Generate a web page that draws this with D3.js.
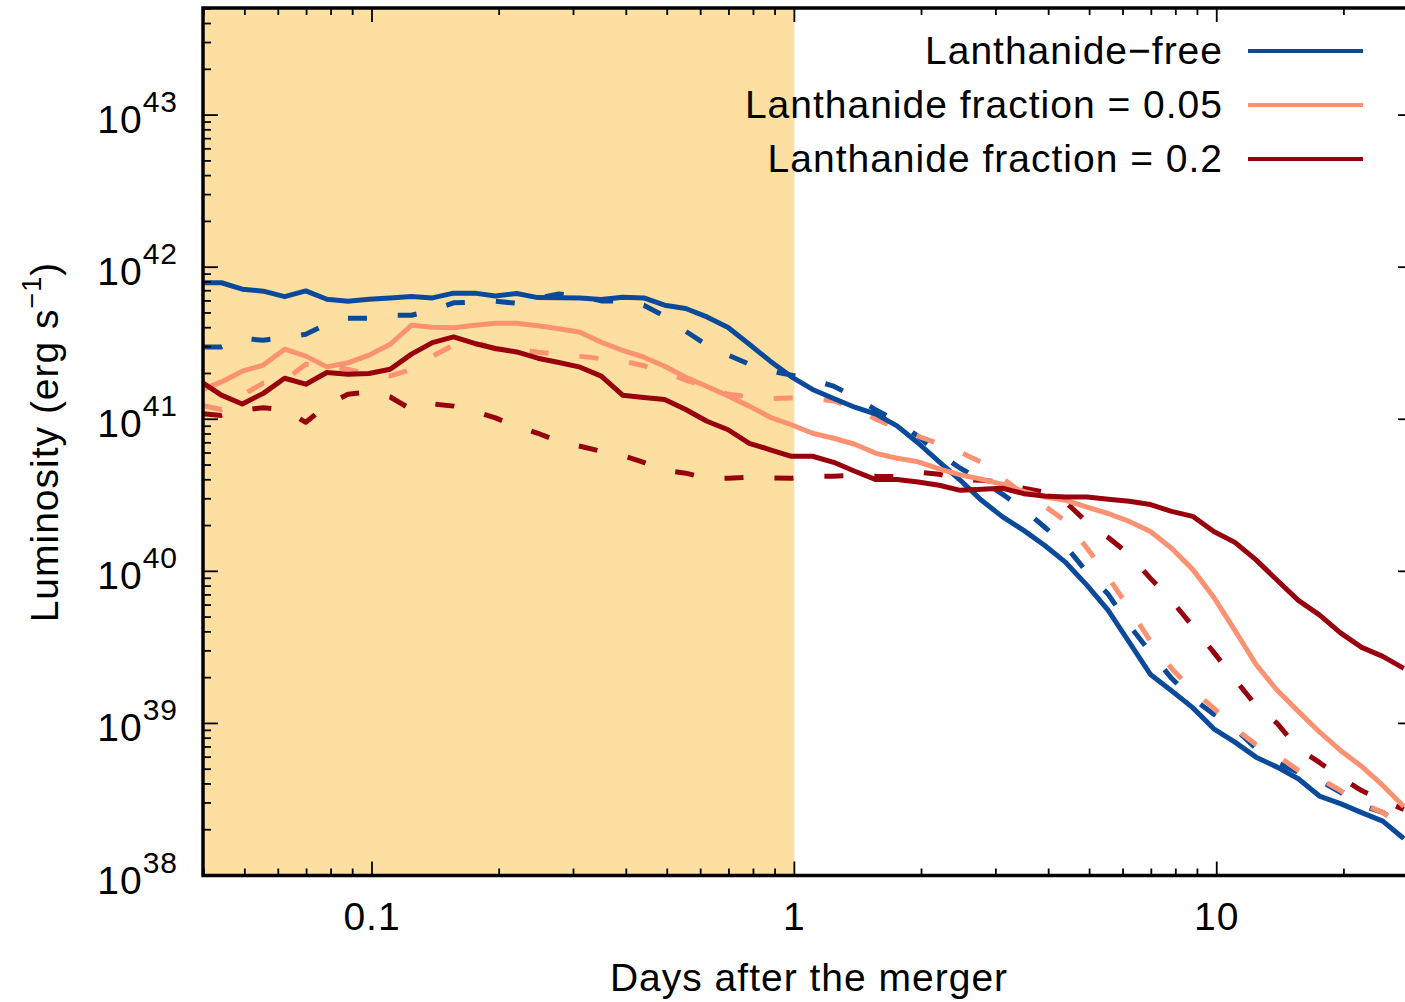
<!DOCTYPE html>
<html>
<head>
<meta charset="utf-8">
<script src="https://cdn.jsdelivr.net/npm/d3@7"></script>
<style>
  body { margin: 0; background: #fff; }
  text { font-family: "Liberation Sans", Arial, Helvetica, sans-serif; fill: #000; letter-spacing: 1px; }
</style>
</head>
<body>
<script>
// time grid (days after the merger)
var days = [0.0392, 0.044, 0.0493, 0.0553, 0.0621, 0.0697, 0.0782, 0.0877, 0.0984, 0.1104,
  0.124, 0.139, 0.156, 0.175, 0.196, 0.220, 0.247, 0.277, 0.311, 0.349,
  0.392, 0.440, 0.493, 0.553, 0.621, 0.697, 0.782, 0.877, 0.984, 1.104,
  1.239, 1.390, 1.560, 1.750, 1.963, 2.203, 2.472, 2.773, 3.112, 3.491,
  3.917, 4.395, 4.932, 5.534, 6.209, 6.966, 7.816, 8.770, 9.840, 11.04,
  12.39, 13.90, 15.60, 17.50, 19.63, 22.03, 24.72, 27.73];

// luminosity (erg/s), solid and dashed curve of each model
var freeSolid = [7.9e41, 7.9e41, 7.16e41, 6.95e41, 6.40e41, 6.98e41, 6.15e41, 5.97e41, 6.15e41, 6.28e41,
  6.41e41, 6.28e41, 6.75e41, 6.75e41, 6.47e41, 6.72e41, 6.31e41, 6.3e41, 6.28e41, 6.12e41,
  6.34e41, 6.28e41, 5.62e41, 5.35e41, 4.71e41, 4.01e41, 3.11e41, 2.41e41, 1.90e41, 1.57e41,
  1.37e41, 1.20e41, 1.08e41, 9.04e40, 6.98e40, 5.24e40, 3.97e40, 2.93e40, 2.28e40, 1.86e40,
  1.48e40, 1.14e40, 8.09e39, 5.54e39, 3.41e39, 2.10e39, 1.64e39, 1.27e39, 9.22e38, 7.53e38,
  6.00e38, 5.16e38, 4.33e38, 3.33e38, 2.97e38, 2.59e38, 2.28e38, 1.75e38];
var freeDashed = [2.99e41, 2.99e41, 3.4e41, 3.31e41, 3.45e41, 3.62e41, 4.22e41, 4.61e41, 4.61e41, 4.83e41,
  4.83e41, 5.21e41, 5.83e41, 5.9e41, 5.97e41, 5.79e41, 6.25e41, 6.67e41, 6.44e41, 6.0e41,
  6.0e41, 5.62e41, 4.76e41, 3.79e41, 3.07e41, 2.64e41, 2.30e41, 2.07e41, 1.95e41, 1.81e41,
  1.65e41, 1.40e41, 1.15e41, 9.7e40, 7.73e40, 5.89e40, 4.76e40, 3.97e40, 3.21e40, 2.56e40,
  1.95e40, 1.46e40, 9.85e39, 7.06e39, 4.41e39, 2.93e39, 1.98e39, 1.46e39, 1.15e39, 9.27e38,
  6.85e38, 5.54e38, 4.76e38, 4.22e38, 3.52e38, 2.89e38, 2.6e38, 2.1e38];
var lan005Solid = [1.55e41, 1.76e41, 2.07e41, 2.27e41, 2.89e41, 2.60e41, 2.21e41, 2.35e41, 2.64e41, 3.11e41,
  4.15e41, 4.03e41, 4.0e41, 4.15e41, 4.28e41, 4.28e41, 4.12e41, 3.94e41, 3.73e41, 3.21e41,
  2.84e41, 2.56e41, 2.23e41, 1.89e41, 1.64e41, 1.42e41, 1.22e41, 1.03e41, 9.2e40, 8.09e40,
  7.5e40, 6.85e40, 5.97e40, 5.54e40, 5.25e40, 4.72e40, 4.31e40, 4.03e40, 3.73e40, 3.36e40,
  3.08e40, 2.93e40, 2.64e40, 2.40e40, 2.13e40, 1.83e40, 1.42e40, 1.03e40, 6.75e39, 4.09e39,
  2.44e39, 1.65e39, 1.2e39, 8.79e38, 6.64e38, 5.21e38, 3.91e38, 2.84e38];
var lan005Dashed = [1.24e41, 1.16e41, 1.44e41, 1.73e41, 1.81e41, 2.30e41, 2.23e41, 2.13e41, 1.98e41, 1.93e41,
  2.12e41, 2.60e41, 3.07e41, 3.21e41, 2.89e41, 2.89e41, 2.76e41, 2.68e41, 2.60e41, 2.50e41,
  2.41e41, 2.25e41, 2.04e41, 1.81e41, 1.62e41, 1.46e41, 1.41e41, 1.37e41, 1.38e41, 1.37e41,
  1.32e41, 1.18e41, 1.0e41, 8.73e40, 7.73e40, 6.9e40, 6.07e40, 5.21e40, 4.09e40, 3.21e40,
  2.68e40, 2.13e40, 1.42e40, 9.14e39, 5.71e39, 3.46e39, 2.30e39, 1.65e39, 1.26e39, 9.27e38,
  7.27e38, 6.16e38, 4.91e38, 4.35e38, 3.62e38, 2.98e38, 2.6e38, 2.07e38];
var lan02Solid = [1.78e41, 1.44e41, 1.26e41, 1.48e41, 1.86e41, 1.70e41, 2.03e41, 1.98e41, 2.0e41, 2.13e41,
  2.68e41, 3.19e41, 3.48e41, 3.15e41, 2.92e41, 2.77e41, 2.52e41, 2.36e41, 2.20e41, 1.92e41,
  1.44e41, 1.39e41, 1.35e41, 1.16e41, 9.7e40, 8.53e40, 6.95e40, 6.3e40, 5.71e40, 5.71e40,
  5.21e40, 4.55e40, 4.01e40, 4.01e40, 3.87e40, 3.68e40, 3.41e40, 3.46e40, 3.52e40, 3.24e40,
  3.13e40, 3.08e40, 3.08e40, 2.98e40, 2.89e40, 2.75e40, 2.48e40, 2.30e40, 1.83e40, 1.55e40,
  1.19e40, 8.73e39, 6.44e39, 5.17e39, 3.94e39, 3.16e39, 2.76e39, 2.30e39];
var lan02Dashed = [1.09e41, 1.06e41, 1.15e41, 1.19e41, 1.15e41, 9.55e40, 1.24e41, 1.46e41, 1.51e41, 1.40e41,
  1.16e41, 1.26e41, 1.22e41, 1.13e41, 1.02e41, 9.0e40, 8.09e40, 7.16e40, 6.64e40, 6.15e40,
  5.79e40, 5.21e40, 4.62e40, 4.42e40, 4.09e40, 4.09e40, 4.15e40, 4.12e40, 4.09e40, 4.22e40,
  4.22e40, 4.28e40, 4.22e40, 4.2e40, 4.48e40, 4.35e40, 4.03e40, 3.97e40, 3.85e40, 3.52e40,
  3.31e40, 2.84e40, 2.10e40, 1.67e40, 1.29e40, 8.99e39, 6.44e39, 4.35e39, 2.93e39, 1.95e39,
  1.31e39, 1.0e39, 6.85e38, 5.54e38, 4.41e38, 3.62e38, 3.11e38, 2.72e38];

var legendLabels = ["Lanthanide\u2212free", "Lanthanide fraction = 0.05", "Lanthanide fraction = 0.2"];
var colors = ["#0b4a9a", "#fc9272", "#99000d"];
var xTickValues = [0.1, 1, 10];
var yTickExponents = [38, 39, 40, 41, 42, 43];
var shadeEnd = 1; // shaded band ends at 1 day

// set up chart area
var svgWidth = 1405, svgHeight = 1002;
var plot = { left: 203, right: 1413, top: 8, bottom: 875.5 };

var xScale = d3.scaleLog().domain([0.0398, 29.15]).range([plot.left, plot.right]);
var yScale = d3.scaleLog().domain([1e38, 5.06e43]).range([plot.bottom, plot.top]);

var svg = d3.select("body").append("svg")
  .attr("width", svgWidth)
  .attr("height", svgHeight);

svg.append("clipPath").attr("id", "clip")
  .append("rect")
  .attr("x", plot.left).attr("y", plot.top)
  .attr("width", plot.right - plot.left)
  .attr("height", plot.bottom - plot.top);

// shaded early-time band
svg.append("rect")
  .attr("x", plot.left)
  .attr("y", plot.top)
  .attr("width", xScale(shadeEnd) - plot.left)
  .attr("height", plot.bottom - plot.top)
  .attr("fill", "#fde0a1");

var line = d3.line()
  .x(function(d) { return xScale(d[0]); })
  .y(function(d) { return yScale(d[1]); });

var curves = [
  { vals: freeDashed, color: colors[0], dashed: true },
  { vals: lan005Dashed, color: colors[1], dashed: true },
  { vals: lan02Dashed, color: colors[2], dashed: true },
  { vals: freeSolid, color: colors[0], dashed: false },
  { vals: lan005Solid, color: colors[1], dashed: false },
  { vals: lan02Solid, color: colors[2], dashed: false }
];

var lines = svg.append("g").attr("clip-path", "url(#clip)");
curves.forEach(function(c) {
  var pts = days.map(function(t, i) { return [t, c.vals[i]]; });
  lines.append("path")
    .datum(pts)
    .attr("d", line)
    .attr("fill", "none")
    .attr("stroke", c.color)
    .attr("stroke-width", 5)
    .attr("stroke-linejoin", "round")
    .attr("stroke-dasharray", c.dashed ? "19,31" : null)
    .attr("stroke-dashoffset", c.dashed ? -3 : null);
});

// ticks (inward, gnuplot style)
var ticks = svg.append("g").attr("stroke", "#000").attr("stroke-width", 1.8);

var xMinor = [];
[0.01, 0.1, 1, 10].forEach(function(dec) {
  for (var m = 2; m <= 9; m++) {
    var v = m * dec;
    if (v > xScale.domain()[0] && v < xScale.domain()[1]) xMinor.push(v);
  }
});
xMinor.forEach(function(v) {
  var px = xScale(v);
  ticks.append("line").attr("x1", px).attr("x2", px).attr("y1", plot.bottom).attr("y2", plot.bottom - 7);
  ticks.append("line").attr("x1", px).attr("x2", px).attr("y1", plot.top).attr("y2", plot.top + 7);
});
xTickValues.forEach(function(v) {
  var px = xScale(v);
  ticks.append("line").attr("x1", px).attr("x2", px).attr("y1", plot.bottom).attr("y2", plot.bottom - 14);
  ticks.append("line").attr("x1", px).attr("x2", px).attr("y1", plot.top).attr("y2", plot.top + 14);
});

var yMinor = [];
[38, 39, 40, 41, 42, 43].forEach(function(e) {
  for (var m = 2; m <= 9; m++) {
    var v = m * Math.pow(10, e);
    if (v < yScale.domain()[1]) yMinor.push(v);
  }
});
yMinor.forEach(function(v) {
  var py = yScale(v);
  ticks.append("line").attr("x1", plot.left).attr("x2", plot.left + 8).attr("y1", py).attr("y2", py);
  ticks.append("line").attr("x1", plot.right).attr("x2", plot.right - 7).attr("y1", py).attr("y2", py);
});
yTickExponents.forEach(function(e) {
  var py = yScale(Math.pow(10, e));
  ticks.append("line").attr("x1", plot.left).attr("x2", plot.left + 15).attr("y1", py).attr("y2", py);
  ticks.append("line").attr("x1", plot.right).attr("x2", plot.right - 15).attr("y1", py).attr("y2", py);
});

// frame
svg.append("rect")
  .attr("x", plot.left).attr("y", plot.top)
  .attr("width", plot.right - plot.left)
  .attr("height", plot.bottom - plot.top)
  .attr("fill", "none")
  .attr("stroke", "#000")
  .attr("stroke-width", 3.5);

// x tick labels
svg.selectAll(".xlab").data(xTickValues).enter().append("text")
  .attr("class", "xlab")
  .attr("x", function(d) { return xScale(d); })
  .attr("y", 930)
  .attr("text-anchor", "middle")
  .style("font-size", "39px")
  .text(function(d) { return d; });

// y tick labels 10^n
yTickExponents.forEach(function(e) {
  var py = yScale(Math.pow(10, e));
  var t = svg.append("text")
    .attr("x", 178)
    .attr("y", py + 18)
    .attr("text-anchor", "end")
    .style("font-size", "39px");
  t.append("tspan").text("10");
  t.append("tspan").attr("dy", -21).style("font-size", "30px").text(e);
});

// x label
svg.append("text")
  .attr("x", 809)
  .attr("y", 991)
  .attr("text-anchor", "middle")
  .style("font-size", "39px")
  .text("Days after the merger");

// y label
var yl = svg.append("text")
  .attr("transform", "translate(58,442) rotate(-90)")
  .attr("text-anchor", "middle")
  .style("font-size", "39px");
yl.append("tspan").text("Luminosity (erg s");
yl.append("tspan").attr("dy", -17).style("font-size", "27px").text("\u22121");
yl.append("tspan").attr("dy", 17).text(")");

// legend
var legend = svg.append("g");
legendLabels.forEach(function(lab, i) {
  var ly = 51 + i * 54;
  legend.append("text")
    .attr("x", 1223)
    .attr("y", ly + 13)
    .attr("text-anchor", "end")
    .style("font-size", "39px")
    .text(lab);
  legend.append("line")
    .attr("x1", 1248).attr("x2", 1363)
    .attr("y1", ly).attr("y2", ly)
    .attr("stroke", colors[i])
    .attr("stroke-width", 4);
});
</script>
</body>
</html>
